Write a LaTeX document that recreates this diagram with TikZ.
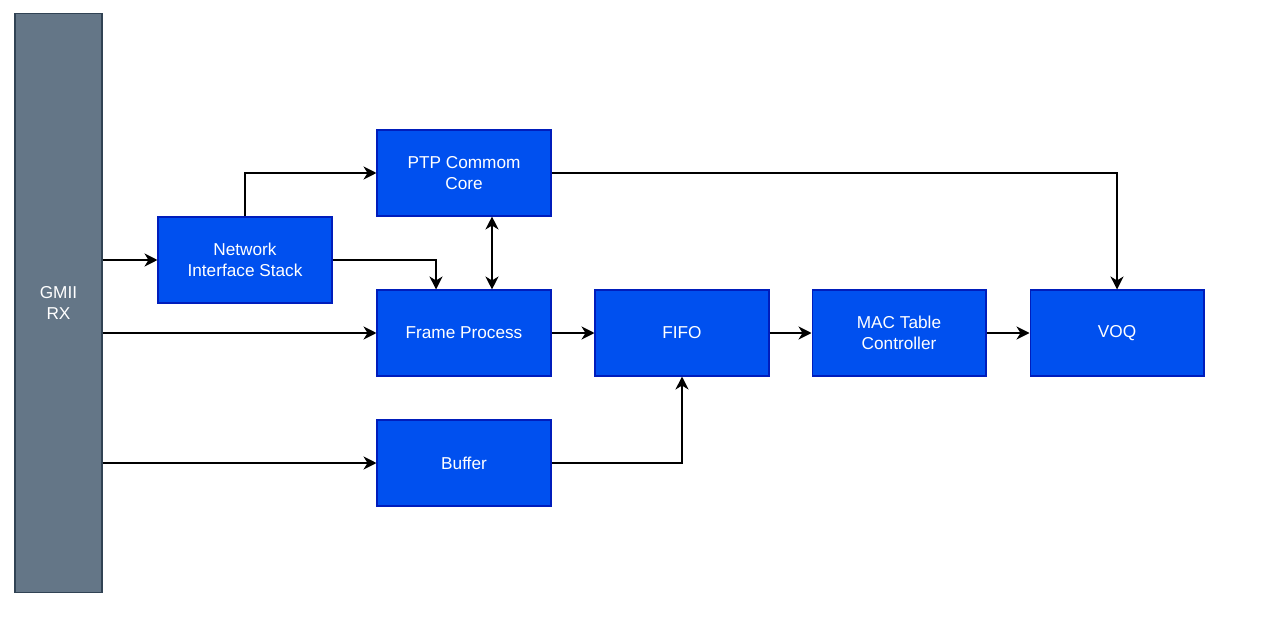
\documentclass[tikz,border=0pt]{standalone}
\usepackage{fontspec}
\setmainfont{Liberation Sans}
\usetikzlibrary{arrows.meta}
\definecolor{bloque}{HTML}{0050EF}
\definecolor{bordebloque}{HTML}{001DBC}
\definecolor{bus}{HTML}{647687}
\definecolor{bordebus}{HTML}{314354}
\begin{document}
\begin{tikzpicture}[x=0.02cm,y=-0.02cm,font=\fontsize{9.8pt}{11.9pt}\selectfont,
  blk/.style={draw=bordebloque,fill=bloque,text=white,align=center,line width=0.6pt,
    minimum width=3.48cm,minimum height=1.72cm,inner sep=0pt},
  punta/.tip={Stealth[length=2.6mm,width=2.6mm,inset=0.8mm]},
  flecha/.style={-punta,line width=0.75pt}]
\useasboundingbox (0,0) rectangle (1261,618);
\def\CA{464}\def\CB{682}\def\CC{899}\def\CD{1117}
% bus de entrada
\node[draw=bordebus,fill=bus,text=white,align=center,line width=0.6pt,
  minimum width=1.74cm,minimum height=11.6cm,inner sep=0pt] (gmii) at (58.5,303) {GMII\\RX};
% bloques
\node[blk] (nis) at (245,260) {Network\\Interface Stack};
\node[blk] (ptp) at (\CA,173) {PTP Commom\\Core};
\node[blk] (fp) at (\CA,333) {Frame Process};
\node[blk] (fifo) at (\CB,333) {FIFO};
\node[blk] (mac) at (\CC,333) {MAC Table\\Controller};
\node[blk] (voq) at (\CD,333) {VOQ};
\node[blk] (buf) at (\CA,463) {Buffer};
% puntos de entrada
\coordinate (fpin) at ([xshift=-0.56cm]fp.north);
\coordinate (fpsync) at ([xshift=0.56cm]fp.north);
\coordinate (ptpsync) at ([xshift=0.56cm]ptp.south);
% conexiones
\draw[flecha] (gmii.east |- nis) -- (nis);
\draw[flecha] (gmii.east |- fp) -- (fp);
\draw[flecha] (gmii.east |- buf) -- (buf);
\draw[flecha] (nis.north) |- (ptp.west);
\draw[flecha] (nis.east) -| (fpin);
\draw[punta-punta,line width=0.75pt] (ptpsync) -- (fpsync);
\draw[flecha] (ptp.east) -| (voq.north);
\draw[flecha] (fp) -- (fifo);
\draw[flecha] (fifo) -- (mac);
\draw[flecha] (mac) -- (voq);
\draw[flecha] (buf.east) -| (fifo.south);
\end{tikzpicture}
\end{document}
